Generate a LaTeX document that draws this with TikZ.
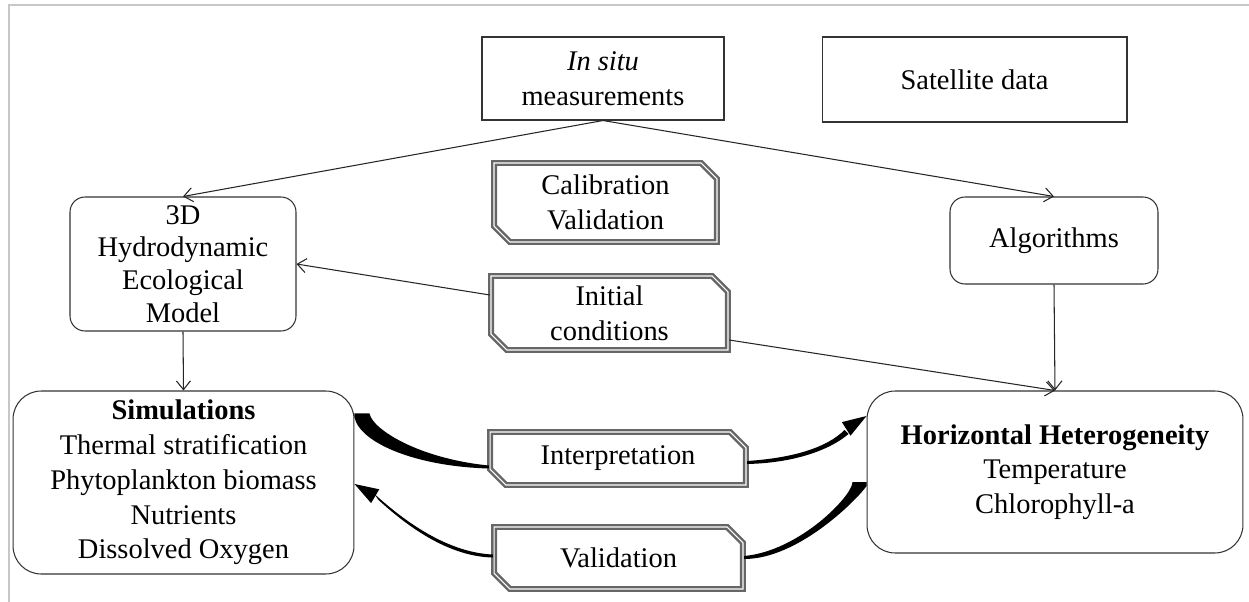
\documentclass[tikz,border=0pt]{standalone}
\usepackage{fontspec}
\setmainfont{Liberation Serif}
\usetikzlibrary{arrows.meta,calc,shapes.misc}

\newcommand{\boxfont}{\fontsize{16.2}{19.8}\selectfont}
\newcommand{\tightfont}{\fontsize{16.2}{18.6}\selectfont}

\tikzset{
  databox/.style={draw=black!80, line width=0.6pt, align=center, inner sep=0pt, font=\boxfont},
  modelbox/.style={databox, rounded corners=8.5pt},
  resultbox/.style={databox, rounded corners=16pt},
  tagbox/.style={chamfered rectangle, chamfered rectangle corners={north east,south west},
    chamfered rectangle sep=4.5pt, draw=black!60, line width=1.4pt, double=white,
    double distance=0.6pt, align=center, inner sep=0pt, font=\boxfont},
  link/.style={draw=black!85, line width=0.6pt, -{Straight Barb[length=5pt,width=8pt]}},
  bold link/.style={fill=black}
}

\begin{document}
\begin{tikzpicture}[x=0.02cm, y=-0.02cm]
  \useasboundingbox (0,0) rectangle (1249,602);
  % page frame
  \draw[black!22, line width=1.2pt] (9,602) -- (9,5) -- (1249,5);

  % sources
  \node[databox, minimum width=4.84cm, minimum height=1.66cm] (insitu) at (603,78.5)
    {\textit{In situ}\\measurements};
  \node[databox, minimum width=6.1cm, minimum height=1.7cm] (satellite) at (974.5,79.5)
    {Satellite data};

  % processing
  \node[modelbox, font=\tightfont, minimum width=4.52cm, minimum height=2.68cm] (model) at (183,264)
    {3D\\Hydrodynamic\\Ecological\\Model};
  \node[modelbox, minimum width=4.16cm, minimum height=1.74cm] (algo) at (1054,240.5)
    {Algorithms};

  % tags
  \node[tagbox, minimum width=4.46cm, minimum height=1.58cm] (calib) at (605.5,202.5)
    {Calibration\\Validation};
  \node[tagbox, minimum width=4.74cm, minimum height=1.48cm] (initial) at (609.5,313)
    {Initial\\conditions};
  \node[tagbox, minimum width=5.12cm, minimum height=1.06cm] (interp) at (618,458.5)
    {Interpretation};
  \node[tagbox, minimum width=4.98cm, minimum height=1.24cm] (valid) at (618.5,558)
    {Validation};

  % results
  \node[resultbox, minimum width=6.82cm, minimum height=3.66cm] (sim) at (183.5,482.5)
    {\textbf{Simulations}\\Thermal stratification\\Phytoplankton biomass\\Nutrients\\Dissolved Oxygen};
  \node[resultbox, minimum width=7.52cm, minimum height=3.24cm] (horiz) at (1055,472)
    {\textbf{Horizontal Heterogeneity}\\Temperature\\Chlorophyll-a};

  % thin arrows
  \draw[link] (insitu.south) -- (model.north);
  \draw[link] (insitu.south) -- (algo.north);
  \draw[link] ($(initial.west)+(0,-18)$) -- (model.east);
  \draw[link] ($(initial.east)+(0,27)$) -- (horiz.north);
  \draw[link] (algo.south) -- (horiz.north);
  \draw[link] (model.south) -- (sim.north);

  % attachment points of the thick curves
  \coordinate (sA) at ($(sim.north east)+(0,23)$);
  \coordinate (sB) at ($(sim.east)+(0,1.5)$);
  \coordinate (hA) at ($(horiz.west)+(0,-56)$);
  \coordinate (hB) at ($(horiz.west)+(0,10)$);
  \coordinate (iA) at ($(interp.west)+(0,7)$);
  \coordinate (iB) at ($(interp.east)+(0,4)$);
  \coordinate (vA) at ($(valid.east)+(0,-2)$);
  \coordinate (vB) at ($(valid.west)+(0,-2)$);

  % Simulations -> Interpretation -> Horizontal Heterogeneity
  \fill[bold link] (sA) -- ++(15,0) .. controls +(3,16) and +(-70,-7) .. (iA)
    -- ++(0,3) .. controls +(-72,-2) and +(6,26) .. ($(sA)+(0,4)$) -- cycle;
  \fill[bold link] ($(iB)+(0,-1.5)$) .. controls +(45,-3) and +(-18,18) .. ($(hA)+(-22,14)$)
    -- ++(4,4) .. controls +(-20,17) and +(45,-1) .. ($(iB)+(0,1.5)$) -- cycle;
  \fill[bold link] (hA) -- ($(hA)+(-24.6,6.1)$) -- ($(hA)+(-16,19.7)$) -- cycle;

  % Horizontal Heterogeneity -> Validation -> Simulations
  \fill[bold link] (hB) -- ++(-14,0) .. controls +(0,14) and +(55,-5) .. (vA)
    -- ++(0,3) .. controls +(55,0) and +(-8,12) .. ($(hB)+(0,4)$) -- cycle;
  \fill[bold link] ($(vB)+(0,-1.5)$) .. controls +(-50,-2) and +(22,20) .. ($(sB)+(20,10)$)
    -- ++(4,6) .. controls +(20,18) and +(-50,-1) .. ($(vB)+(0,1.5)$) -- cycle;
  \fill[bold link] (sB) -- ($(sB)+(24.8,5.3)$) -- ($(sB)+(16.6,19.1)$) -- cycle;
\end{tikzpicture}
\end{document}
